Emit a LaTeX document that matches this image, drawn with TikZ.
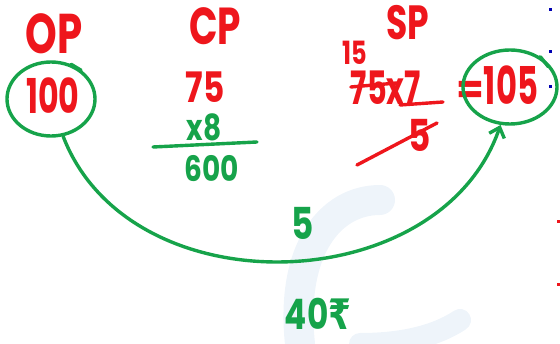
\documentclass[tikz,border=0pt]{standalone}
\usepackage{fontspec}
\setmainfont{Poppins}
\newfontfamily\rupeefont{DejaVu Sans}
\usetikzlibrary{arrows.meta,positioning,shapes.geometric}
\definecolor{inkred}{RGB}{238,22,28}
\definecolor{inkgreen}{RGB}{22,163,74}
\definecolor{markblue}{RGB}{238,244,250}
\newcommand{\hsz}[1]{\fontsize{#1}{#1}\selectfont\bfseries}
\tikzset{
  redink/.style={text=inkred, inner sep=0pt},
  greenink/.style={text=inkgreen, inner sep=0pt},
  redline/.style={draw=inkred, line width=3.4pt, line cap=round},
  greenline/.style={draw=inkgreen, line width=3.4pt, line cap=round},
  ring/.style={ellipse, greenline, inner sep=0pt}
}
\begin{document}
\begin{tikzpicture}[x=1pt, y=-1pt]
\useasboundingbox (0,0) rectangle (560,344);
% faint watermark
\draw[markblue, line width=30pt, line cap=round] (300,344) .. controls (290,250) and (330,200) .. (380,200);
\draw[markblue, line width=22pt, line cap=round] (460,320) .. controls (430,340) and (390,344) .. (360,344);
% column heads
\node[redink, font=\hsz{56}, xscale=0.72] (op) at (54,34) {OP};
\node[redink, font=\hsz{52}, xscale=0.72] (cp) at (215,26) {CP};
\node[redink, font=\hsz{48}, xscale=0.72] (sp) at (408,23) {SP};
% marked price
\node[redink, font=\hsz{48}, xscale=0.66] (hundred) at (53,96) {100};
\node[ring, minimum width=88, minimum height=74] (ring100) at (51,99) {};
\draw[greenline] (ring100.60) -- ++(10,6);
% cost price
\node[redink, font=\hsz{42}, xscale=0.78] (cpval) at (205,87) {75};
\node[greenink, font=\hsz{36}, xscale=0.78] (times8) at (204,127) {x8};
\coordinate (barL) at (153,147);
\coordinate (barR) at (257,142);
\draw[greenline] (barL) -- (barR);
\node[greenink, font=\hsz{35}, xscale=0.8] (total) at (212,169) {600};
% selling price
\node[redink, font=\hsz{32}, xscale=0.75] (fifteen) at (355,53) {15};
\node[redink, font=\hsz{46}, xscale=0.66] (frac) at (386,88) {75x7};
\draw[redline] (frac.west) ++(0,-1) -- ++(46,-4);
\coordinate (fracL) at (400,105);
\coordinate (fracR) at (443,102);
\draw[redline] (fracL) -- (fracR);
\node[redink, font=\hsz{44}, xscale=0.78] (five) at (420,135) {5};
\coordinate (cutA) at (357,165);
\coordinate (cutB) at (437,123);
\draw[redline] (cutA) -- (cutB);
\node[redink, font=\hsz{40}] (eq) at (470,92) {=};
\node[redink, font=\hsz{52}, xscale=0.62] (result) at (511,85) {105};
\node[ring, minimum width=94, minimum height=74] (ring105) at (510,87) {};
\draw[greenline] (ring105.45) -- ++(8,10);
% profit curve
\draw[greenline, -{Straight Barb[length=9pt, width=16pt]}] (ring100.-72) .. controls (130,310) and (440,300) .. (ring105.-104);
\node[greenink, font=\hsz{44}, xscale=0.78] (gain) at (303,223) {5};
\node[greenink, font=\hsz{42}, xscale=0.78] (rupees) at (318,314) {40{\rupeefont ₹}};
% edge marks
\foreach \y in {8,50,85} \fill[blue!70!black] (549,\y) rectangle ++(3,3);
\foreach \y in {220,283} \fill[inkred] (557,\y) rectangle ++(3,3);
\end{tikzpicture}
\end{document}
